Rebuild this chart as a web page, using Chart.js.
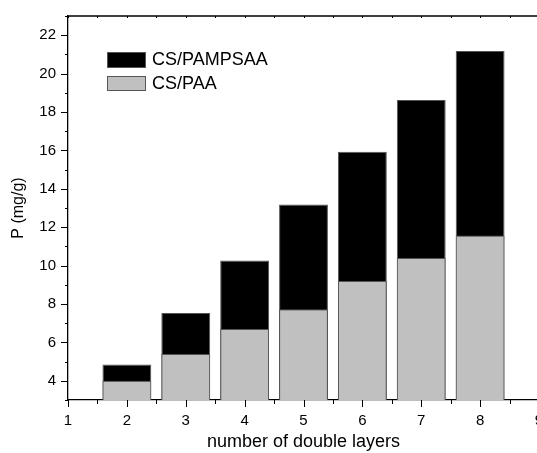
<!DOCTYPE html>
<html>
<head>
<meta charset="utf-8">
<script src="https://cdn.jsdelivr.net/npm/chart.js@4/dist/chart.umd.min.js"></script>
<style>
  html, body { margin: 0; padding: 0; background: #fff; overflow: hidden; }
  #wrap { width: 537px; height: 453px; overflow: hidden; }
  canvas { display: block; }
</style>
</head>
<body>
<div id="wrap"><canvas id="grafica" width="560" height="453"></canvas></div>
<script>
// datos
const capas = [2, 3, 4, 5, 6, 7, 8];
const csPampsaa = [4.85, 7.53, 10.26, 13.18, 15.93, 18.63, 21.18];
const csPaa = [4.0, 5.4, 6.7, 7.73, 9.2, 10.4, 11.57];
const nombres = ["CS/PAMPSAA", "CS/PAA"];
const ticksX = [1, 2, 3, 4, 5, 6, 7, 8, 9];
const ticksY = [4, 6, 8, 10, 12, 14, 16, 18, 20, 22];

const fuente = "'Liberation Sans', Arial, sans-serif";

// marcas menores, linea superior y leyenda
const decoracion = {
  id: "decoracion",
  afterDraw(chart) {
    const ctx = chart.ctx;
    const a = chart.chartArea;
    const sx = chart.scales.x, sy = chart.scales.y;
    ctx.save();
    ctx.strokeStyle = "#000";
    ctx.lineWidth = 1.3;
    ctx.beginPath();
    ctx.moveTo(a.left, a.top);
    ctx.lineTo(chart.width, a.top);
    ctx.stroke();

    ctx.lineWidth = 1;
    ctx.beginPath();
    for (let v = 1; v <= 9; v += 0.5) {
      const px = Math.round(sx.getPixelForValue(v)) + 0.5;
      const largo = Number.isInteger(v) ? 7 : 4;
      ctx.moveTo(px, a.bottom);
      ctx.lineTo(px, a.bottom + largo);
      ctx.moveTo(px, a.top);
      ctx.lineTo(px, a.top + 2);
    }
    for (let v = 3; v <= 23; v += 1) {
      const py = Math.round(sy.getPixelForValue(v)) + 0.5;
      const largo = ticksY.includes(v) ? 7 : 3;
      ctx.moveTo(a.left, py);
      ctx.lineTo(a.left - largo, py);
    }
    ctx.stroke();

    // leyenda
    const ds = chart.data.datasets;
    const filas = [{ d: ds[1], y: 52, h: 16 }, { d: ds[0], y: 76, h: 15 }];
    ctx.font = "18px " + fuente;
    ctx.textBaseline = "middle";
    ctx.textAlign = "left";
    filas.forEach(f => {
      ctx.fillStyle = f.d.backgroundColor;
      ctx.fillRect(107, f.y, 39, f.h);
      ctx.strokeStyle = "#555";
      ctx.lineWidth = 1;
      ctx.strokeRect(107.5, f.y + 0.5, 38, f.h - 1);
      ctx.fillStyle = "#000";
      ctx.fillText(f.d.label, 152, f.y + f.h / 2 + 0.5);
    });
    ctx.restore();
  }
};

new Chart(document.getElementById("grafica"), {
  type: "bar",
  data: {
    datasets: [
      {
        label: nombres[1],
        data: capas.map((c, i) => ({ x: c, y: csPaa[i] })),
        backgroundColor: "#c0c0c0",
        borderColor: "#555",
        borderWidth: 1,
        borderSkipped: false,
        order: 0
      },
      {
        label: nombres[0],
        data: capas.map((c, i) => ({ x: c, y: csPampsaa[i] })),
        backgroundColor: "#000",
        borderColor: "#555",
        borderWidth: 1,
        borderSkipped: false,
        order: 1
      }
    ]
  },
  options: {
    responsive: false,
    animation: false,
    devicePixelRatio: 1,
    grouped: false,
    categoryPercentage: 1,
    barPercentage: 0.83,
    layout: { padding: { top: 16, right: 21, left: 0, bottom: 0 } },
    plugins: { legend: { display: false }, tooltip: { enabled: false } },
    scales: {
      x: {
        type: "linear",
        min: 1, max: 9,
        offset: false,
        afterFit(s) { s.height = 53; },
        afterBuildTicks(s) { s.ticks = ticksX.map(v => ({ value: v })); },
        grid: { display: true, drawOnChartArea: false, tickLength: 7, tickColor: "transparent" },
        border: { display: true, color: "#000", width: 1.3 },
        ticks: { color: "#000", font: { family: fuente, size: 15 }, padding: 5, maxRotation: 0, autoSkip: false },
        title: { display: true, text: "number of double layers", color: "#000", font: { family: fuente, size: 18 }, padding: { top: 0, bottom: 0 } }
      },
      y: {
        min: 3, max: 23,
        afterFit(s) { s.width = 68; },
        afterBuildTicks(s) { s.ticks = ticksY.map(v => ({ value: v })); },
        grid: { display: true, drawOnChartArea: false, tickLength: 7, tickColor: "transparent" },
        border: { display: true, color: "#000", width: 1.3 },
        ticks: { color: "#000", font: { family: fuente, size: 15 }, padding: 5, autoSkip: false },
        title: { display: true, text: "P (mg/g)", color: "#000", font: { family: fuente, size: 16 }, padding: { top: 9, bottom: 0 } }
      }
    }
  },
  plugins: [decoracion]
});
</script>
</body>
</html>
